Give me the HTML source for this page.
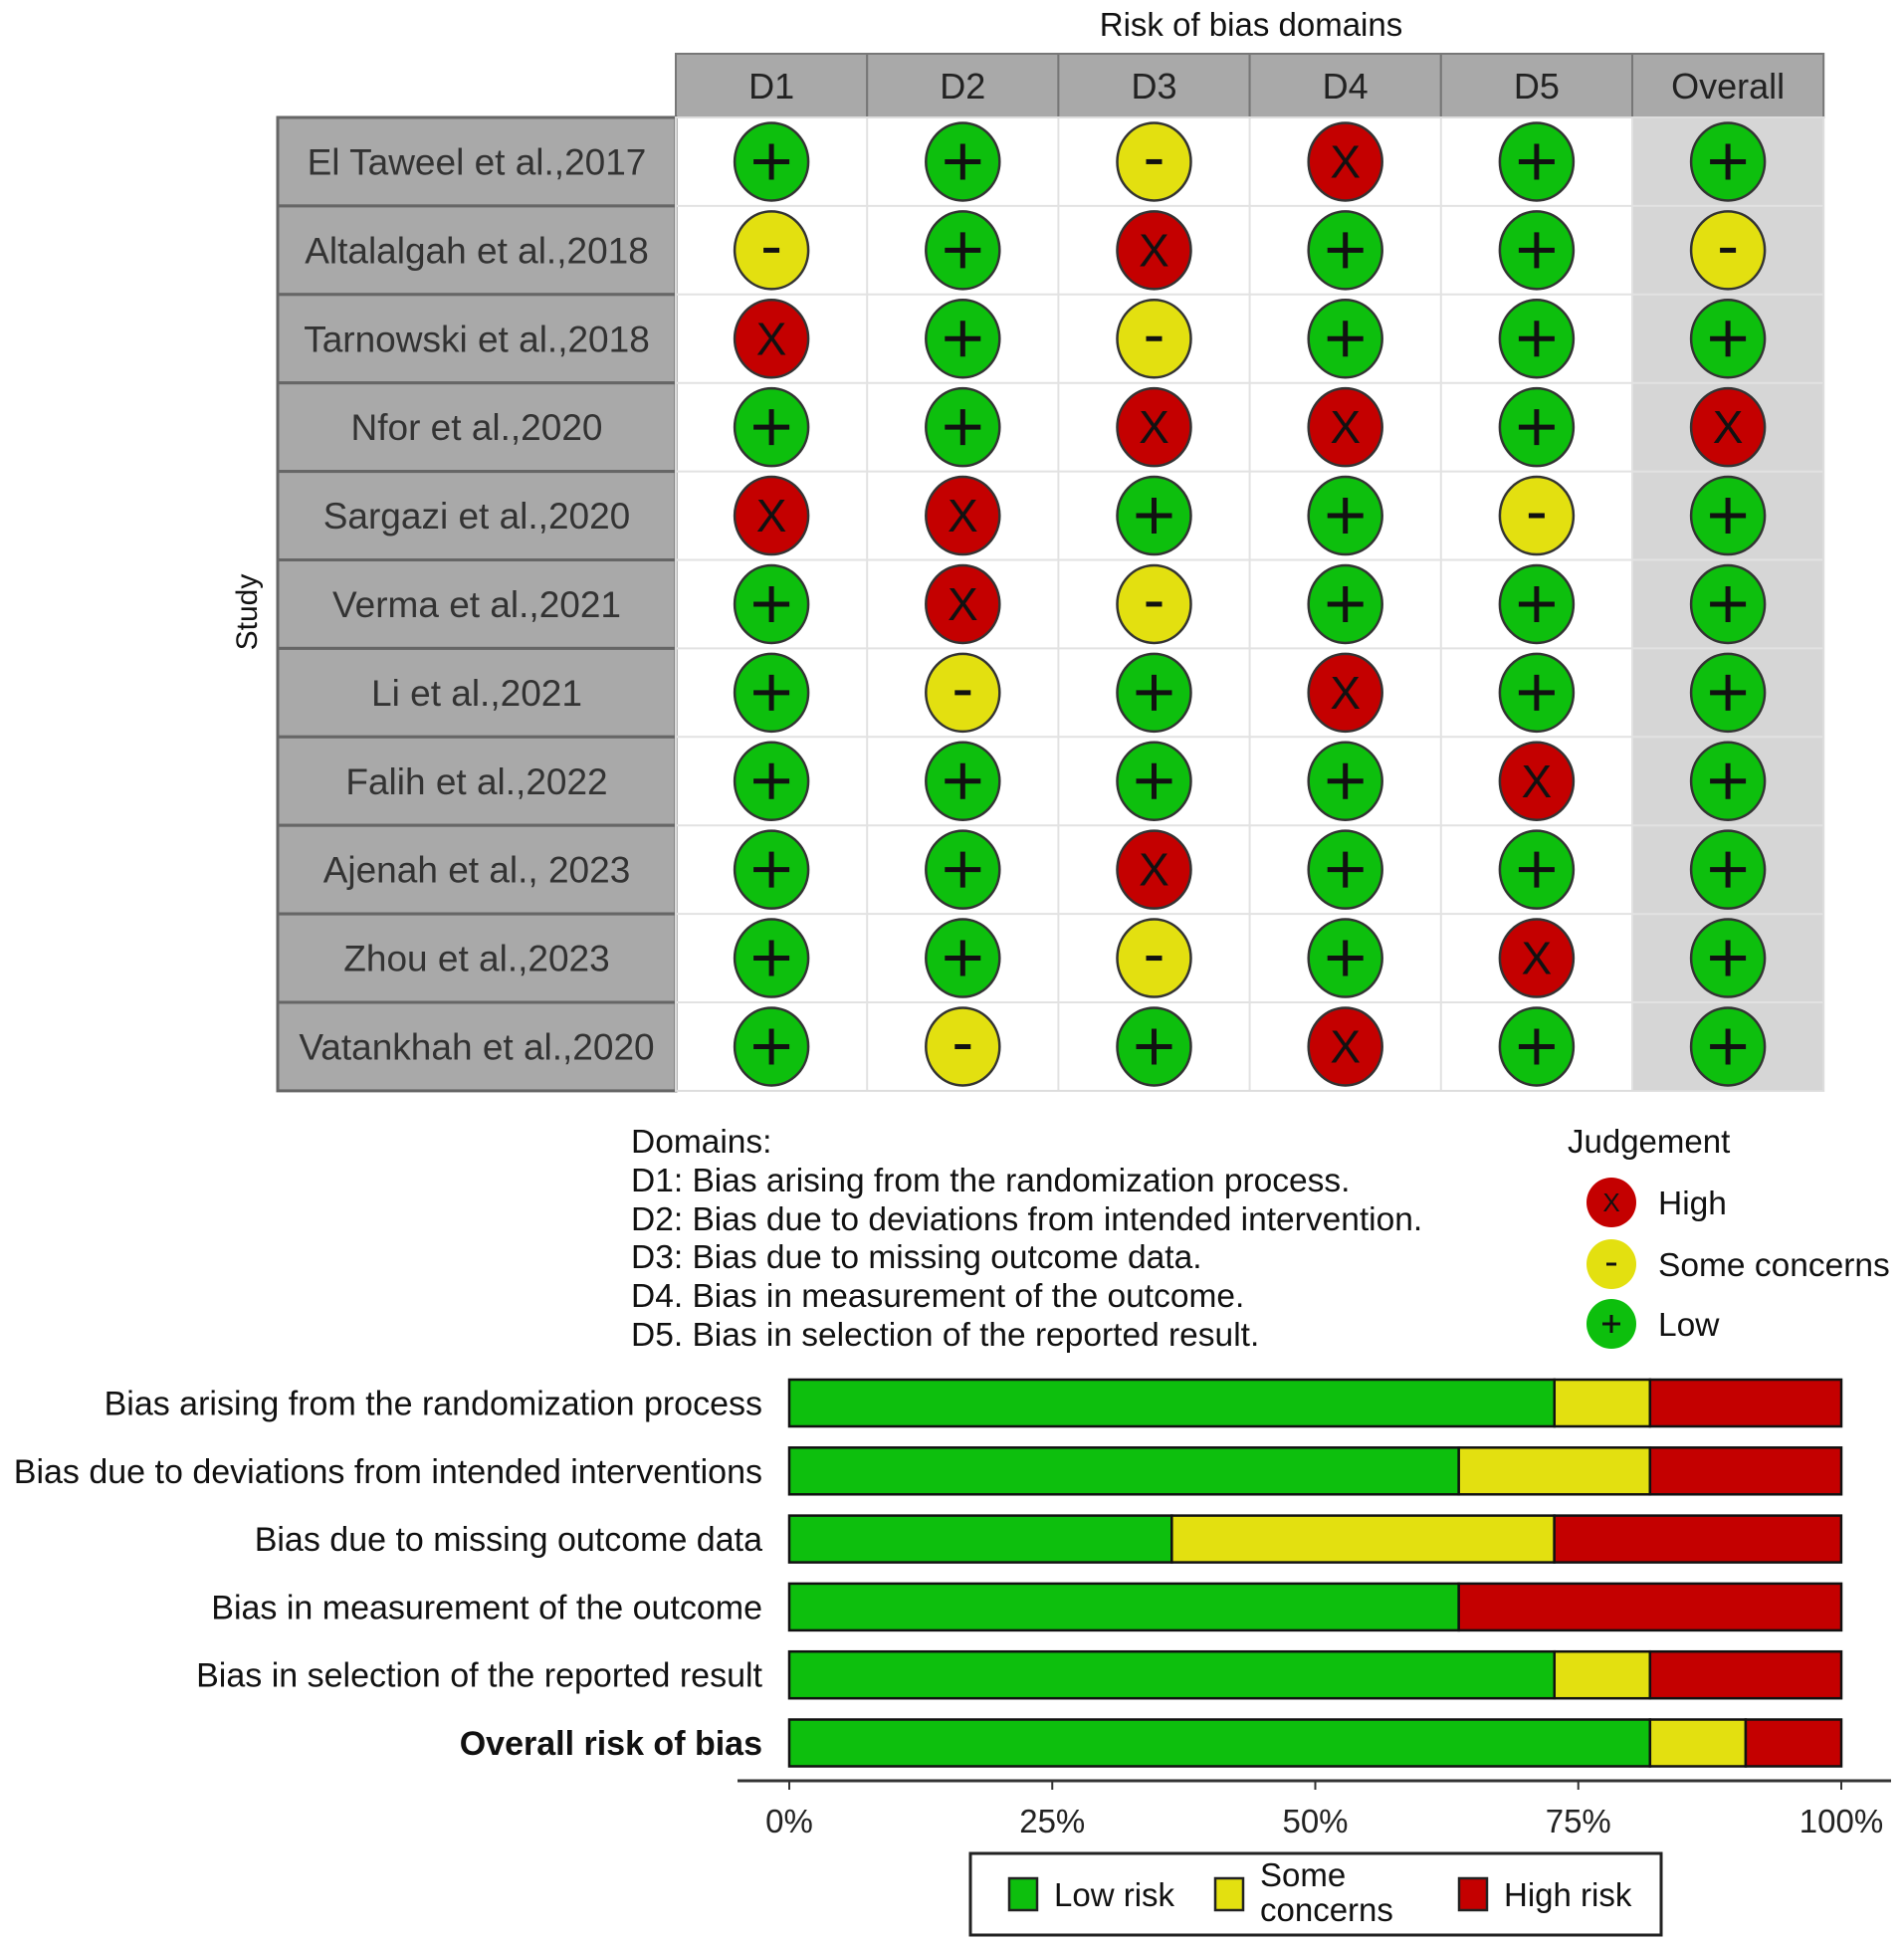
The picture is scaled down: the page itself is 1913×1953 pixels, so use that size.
<!DOCTYPE html>
<html><head><meta charset="utf-8"><style>
html,body{margin:0;padding:0;background:#fff;}
svg{display:block;font-family:"Liberation Sans",sans-serif;}
</style></head><body>
<svg id="chart" width="1913" height="1953" viewBox="0 0 1913 1953" xmlns="http://www.w3.org/2000/svg">
<text x="1257" y="36" font-size="33" text-anchor="middle" fill="#111">Risk of bias domains</text>
<text x="0" y="0" font-size="30" text-anchor="middle" fill="#111" transform="translate(258,615) rotate(-90)">Study</text>
<g id="grid"></g>
<g id="domains-legend" font-size="33.5" fill="#111">
<text x="634" y="1158">Domains:</text>
<text x="634" y="1197">D1: Bias arising from the randomization process.</text>
<text x="634" y="1236">D2: Bias due to deviations from intended intervention.</text>
<text x="634" y="1274">D3: Bias due to missing outcome data.</text>
<text x="634" y="1313">D4. Bias in measurement of the outcome.</text>
<text x="634" y="1352">D5. Bias in selection of the reported result.</text>
</g>
<g id="judgement"></g>
<g id="bars"></g>
</svg>
<script>
const studies=["El Taweel et al.,2017","Altalalgah et al.,2018","Tarnowski et al.,2018","Nfor et al.,2020","Sargazi et al.,2020","Verma et al.,2021","Li et al.,2021","Falih et al.,2022","Ajenah et al., 2023","Zhou et al.,2023","Vatankhah et al.,2020"];
const domains=["D1","D2","D3","D4","D5","Overall"];
const judgements=[
["+","+","-","X","+","+"],
["-","+","X","+","+","-"],
["X","+","-","+","+","+"],
["+","+","X","X","+","X"],
["X","X","+","+","-","+"],
["+","X","-","+","+","+"],
["+","-","+","X","+","+"],
["+","+","+","+","X","+"],
["+","+","X","+","+","+"],
["+","+","-","+","X","+"],
["+","-","+","X","+","+"]];
const barLabels=["Bias arising from the randomization process","Bias due to deviations from intended interventions","Bias due to missing outcome data","Bias in measurement of the outcome","Bias in selection of the reported result","Overall risk of bias"];
const lowPct=[72.73,63.64,36.36,63.64,72.73,81.82];
const somePct=[9.09,18.18,36.36,0,9.09,9.09];
const highPct=[18.18,18.18,27.27,36.36,18.18,9.09];
const tickVals=[0,25,50,75,100];
const tickLabels=["0%","25%","50%","75%","100%"];

const NS="http://www.w3.org/2000/svg";
const COL={"+":"#0dbf0d","-":"#e3e010","X":"#c40000"};
function mk(tag,attrs,parent,text){const e=document.createElementNS(NS,tag);for(const k in attrs)e.setAttribute(k,attrs[k]);if(text!==undefined)e.textContent=text;parent.appendChild(e);return e;}

const g=document.getElementById('grid');
const gx0=679,colW=192.2,hy0=54,hy1=118,rowH=88.9,lx0=279;
const gridX=i=>gx0+i*colW;
const gridY=r=>hy1+r*rowH;
const ob=mk('rect',{x:gridX(5),y:hy1,width:colW,height:rowH*studies.length,fill:'#d6d6d6'},g);


domains.forEach((d,i)=>{
  const h=mk('rect',{x:gridX(i),y:hy0,width:colW,height:hy1-hy0,fill:'#a9a9a9',stroke:'#777','stroke-width':2},g);
  
  
  mk('text',{x:gridX(i)+colW/2,y:hy0+45,'font-size':36,'text-anchor':'middle',fill:'#222'},g,d);
});
for(let i=1;i<6;i++){mk('line',{x1:gridX(i),x2:gridX(i),y1:hy1,y2:gridY(studies.length),stroke:'#e2e2e2','stroke-width':2},g);}
studies.forEach((s,r)=>{
  const y=gridY(r);
  const lb=mk('rect',{x:lx0,y:y,width:gx0-lx0,height:rowH,fill:'#a9a9a9',stroke:'#666','stroke-width':3},g);
  
  
  mk('text',{x:(lx0+gx0)/2,y:y+rowH/2+13,'font-size':37,'text-anchor':'middle',fill:'#333'},g,s);
  if(r>0) mk('line',{x1:gx0,x2:gridX(6),y1:y,y2:y,stroke:'#e2e2e2','stroke-width':2},g);
  judgements[r].forEach((j,c)=>{
    const cx=gridX(c)+colW/2, cy=y+rowH/2;
    const grp=mk('g',{},g);
    
    
    mk('ellipse',{cx:cx,cy:cy,rx:37,ry:39,fill:COL[j],stroke:'#333','stroke-width':2.5},grp);
    if(j==="+"){mk('path',{d:`M${cx-18} ${cy}H${cx+18}M${cx} ${cy-18}V${cy+18}`,stroke:'#111','stroke-width':5},grp);}
    else if(j==="-"){mk('path',{d:`M${cx-8} ${cy}H${cx+8}`,stroke:'#111','stroke-width':5},grp);}
    else {mk('text',{x:cx,y:cy+16,'font-size':46,'text-anchor':'middle',fill:'#111'},grp,'X');}
  });
});
mk('rect',{x:gx0,y:hy1,width:colW*6,height:rowH*studies.length,fill:'none',stroke:'#ddd','stroke-width':2},g);

const jl=document.getElementById('judgement');
mk('text',{x:1575,y:1158,'font-size':33,fill:'#111'},jl,'Judgement');
[["X","High",1208],["-","Some concerns",1270],["+","Low",1330]].forEach(([j,l,y])=>{
  const cx=1619;
  const it=mk('g',{},jl);
  
  
  mk('circle',{cx:cx,cy:y,r:25,fill:COL[j]},it);
  if(j==="+")mk('path',{d:`M${cx-9} ${y}H${cx+9}M${cx} ${y-9}V${y+9}`,stroke:'#111','stroke-width':3},it);
  else if(j==="-")mk('path',{d:`M${cx-5} ${y}H${cx+5}`,stroke:'#111','stroke-width':3},it);
  else mk('text',{x:cx,y:y+9,'font-size':26,'text-anchor':'middle',fill:'#111'},it,'X');
  mk('text',{x:1666,y:y+12,'font-size':33.5,fill:'#111'},it,l);
});

const b=document.getElementById('bars');
const bx0=793,bx1=1850,by0=1386,pitch=68.3,bh=47;
const xs=v=>bx0+(bx1-bx0)*v/100;
const BC={low:'#0dbf0d',some:'#e3e010',high:'#c40000'};
barLabels.forEach((lab,i)=>{
  const y=by0+i*pitch;
  const t=mk('text',{x:766,y:y+bh/2+12,'font-size':34,'text-anchor':'end',fill:'#111','font-weight':i===5?'bold':'normal'},b,lab);
  
  
  const segs=[['low',lowPct[i]],['some',somePct[i]],['high',highPct[i]]];
  let acc=0;
  segs.forEach(([k,v])=>{
    if(v<=0)return;
    const r=mk('rect',{x:xs(acc),y:y,width:xs(acc+v)-xs(acc),height:bh,fill:BC[k],stroke:'#111','stroke-width':2.5},b);
    
    
    acc+=v;
  });
});
const ax=mk('line',{x1:741,x2:1900,y1:1789,y2:1789,stroke:'#333','stroke-width':3},b);


tickVals.forEach((v,i)=>{
  mk('line',{x1:xs(v),x2:xs(v),y1:1789,y2:1798,stroke:'#333','stroke-width':2},b);
  const t=mk('text',{x:xs(v),y:1841,'font-size':33,'text-anchor':'middle',fill:'#222'},b,tickLabels[i]);
  
  
});
const lg=mk('g',{},b);


mk('rect',{x:975,y:1862,width:694,height:82,fill:'#fff',stroke:'#222','stroke-width':3},lg);
[['low',1014,[['Low risk',1915]]],['some',1221,[['Some',1895],['concerns',1930]]],['high',1466,[['High risk',1915]]]].forEach(([k,x,lines])=>{
  mk('rect',{x:x,y:1887,width:28,height:32,fill:BC[k],stroke:'#222','stroke-width':2.5},lg);
  lines.forEach(([s,y])=>mk('text',{x:x+45,y:y,'font-size':33,fill:'#111'},lg,s));
});
</script>
</body></html>
